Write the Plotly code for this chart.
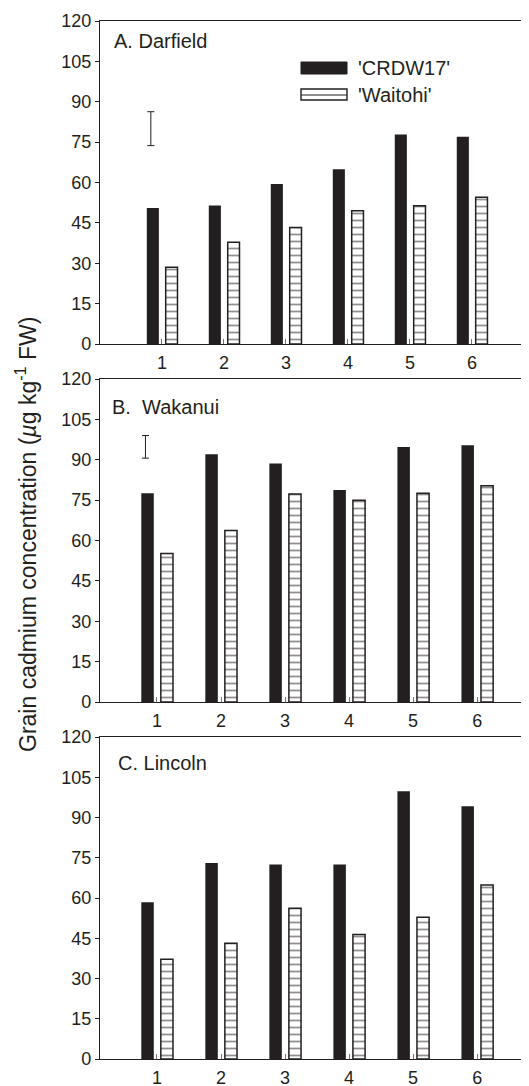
import plotly.graph_objects as go

categories = [1, 2, 3, 4, 5, 6]
tick_labels = ["1", "2", "3", "4", "5", "6"]
panel_titles = ["A. Darfield", "B.  Wakanui", "C. Lincoln"]

crdw17_darfield = [50.5, 51.5, 59.4, 64.9, 77.8, 77.0]
waitohi_darfield = [28.5, 37.8, 43.3, 49.5, 51.4, 54.5]
crdw17_wakanui = [77.6, 92.0, 88.6, 78.8, 94.7, 95.4]
waitohi_wakanui = [55.2, 63.7, 77.3, 75.0, 77.6, 80.3]
crdw17_lincoln = [58.4, 73.0, 72.5, 72.5, 99.8, 94.2]
waitohi_lincoln = [37.2, 43.1, 56.2, 46.4, 52.8, 64.8]

# LSD-style error bars (center, half-length), None where absent
lsd_center = [80.0, 94.8, None]
lsd_half = [6.3, 4.2, None]
lsd_x = 0.82

y_ticks = [0, 15, 30, 45, 60, 75, 90, 105, 120]

INK = "#231f20"
FONT = "Liberation Sans, Arial, sans-serif"

# page body has an 8px margin at top/left; the figure may overflow right/bottom
OFF = 8
W, H = 529 - OFF, 1086 - OFF
L = 100 - OFF
domains_px = [(21, 344), (379, 702), (737, 1059)]
x_ranges = [[0.0, 6.92], [0.11, 6.81], [0.11, 6.81]]

series = [
    (crdw17_darfield, waitohi_darfield),
    (crdw17_wakanui, waitohi_wakanui),
    (crdw17_lincoln, waitohi_lincoln),
]


def px_to_paper(x, y):
    return (x - OFF - L) / (W - L), 1 - (y - OFF) / H


fig = go.Figure()

for i, (blk, hat) in enumerate(series):
    n = "" if i == 0 else str(i + 1)
    xa, ya = "x" + n, "y" + n
    fig.add_trace(go.Bar(
        x=categories, y=blk, xaxis=xa, yaxis=ya, name="'CRDW17'",
        width=0.195, offset=-0.245,
        marker=dict(color=INK, line=dict(width=0)),
        showlegend=False,
    ))
    fig.add_trace(go.Bar(
        x=categories, y=hat, xaxis=xa, yaxis=ya, name="'Waitohi'",
        width=0.19, offset=0.06,
        marker=dict(color="white", line=dict(color=INK, width=1.5),
                    pattern=dict(shape="-", size=7, solidity=0.25,
                                 fgcolor=INK, bgcolor="white")),
        showlegend=False,
    ))
    if lsd_center[i] is not None:
        fig.add_trace(go.Scatter(
            x=[lsd_x], y=[lsd_center[i]], xaxis=xa, yaxis=ya, mode="markers",
            marker=dict(size=2, color="rgba(0,0,0,0)"),
            error_y=dict(type="data", array=[lsd_half[i]], color=INK,
                         thickness=1, width=3.5),
            showlegend=False, hoverinfo="skip",
        ))

    y0, y1 = domains_px[i]
    dom = [1 - (y1 - OFF) / H, 1 - (y0 - OFF) / H]
    xkey = "xaxis" + n
    ykey = "yaxis" + n
    fig.layout[xkey] = dict(
        domain=[0, 1], range=x_ranges[i], anchor=ya, automargin=False,
        tickmode="array", tickvals=categories, ticktext=tick_labels,
        ticks="inside", ticklen=5, tickwidth=1, tickcolor="#777777",
        showline=True, linecolor=INK, linewidth=1.3, mirror=True,
        showgrid=False, zeroline=False,
        tickfont=dict(family=FONT, size=18, color=INK),
        ticklabelstandoff=2,
    )
    fig.layout[ykey] = dict(
        domain=dom, range=[0, 120], anchor=xa, automargin=False,
        tickmode="array", tickvals=y_ticks,
        ticks="outside", ticklen=4, tickwidth=1, tickcolor=INK,
        showline=True, linecolor=INK, linewidth=1.3,
        showgrid=False, zeroline=False,
        tickfont=dict(family=FONT, size=18, color=INK),
    )

# panel titles
title_pos = [(112, 41), (110, 407), (116, 763)]
for (tx, ty), t in zip(title_pos, panel_titles):
    px_, py_ = px_to_paper(tx, ty)
    fig.add_annotation(
        x=px_, y=py_, xref="paper", yref="paper",
        text=t, showarrow=False, xanchor="left", yanchor="middle",
        font=dict(family=FONT, size=20, color=INK),
    )

# legend (drawn swatches)
sx0, sy0 = px_to_paper(301, 62)
sx1, sy1 = px_to_paper(347, 74)
fig.add_shape(type="rect", xref="paper", yref="paper", x0=sx0, x1=sx1,
              y0=sy1, y1=sy0, fillcolor=INK, line=dict(color=INK, width=1))
wx0, wy0 = px_to_paper(301, 89)
wx1, wy1 = px_to_paper(347, 100)
fig.add_shape(type="rect", xref="paper", yref="paper", x0=wx0, x1=wx1,
              y0=wy1, y1=wy0, fillcolor="white", line=dict(color=INK, width=1.4))
_, my = px_to_paper(0, 95)
fig.add_shape(type="line", xref="paper", yref="paper", x0=wx0, x1=wx1,
              y0=my, y1=my, line=dict(color=INK, width=1.2))
for txt, ty in [("'CRDW17'", 68), ("'Waitohi'", 95)]:
    tx, typ = px_to_paper(356, ty)
    fig.add_annotation(x=tx, y=typ, xref="paper", yref="paper", text=txt,
                       showarrow=False, xanchor="left", yanchor="middle",
                       font=dict(family=FONT, size=20, color=INK))

# shared y-axis title
ax_, ay_ = px_to_paper(26, 535)
fig.add_annotation(
    x=ax_, y=ay_, xref="paper", yref="paper",
    text="Grain cadmium concentration (<i>µ</i>g kg<sup>-1</sup> FW)",
    textangle=-90, showarrow=False, xanchor="center", yanchor="middle",
    font=dict(family=FONT, size=23, color=INK),
)

fig.update_layout(
    width=W, height=H,
    margin=dict(l=L, r=0, t=0, b=0, autoexpand=False),
    paper_bgcolor="white", plot_bgcolor="white",
    barmode="overlay",
    showlegend=False,
)

fig.write_html("out.html")
